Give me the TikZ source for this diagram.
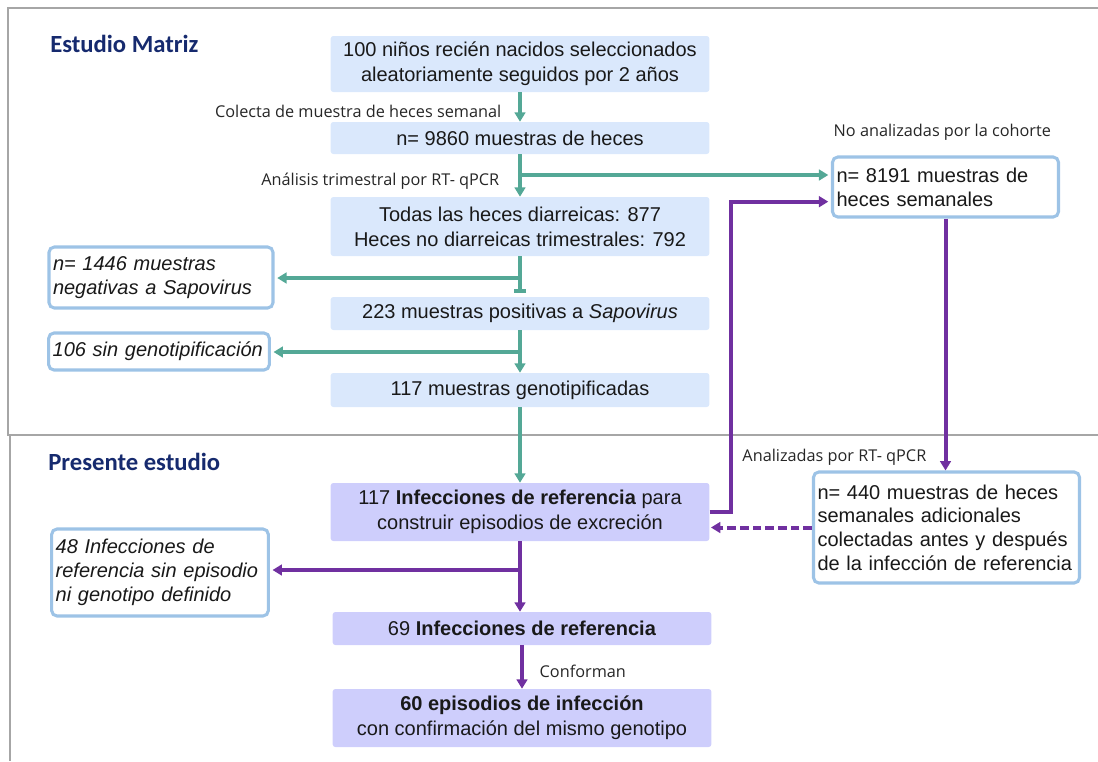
\documentclass[tikz,border=0pt]{standalone}
\usepackage{fontspec}
\setmainfont{Liberation Sans}
\newfontfamily\notefont{Open Sans}
\newfontfamily\headfont{Carlito}
\usetikzlibrary{arrows.meta, calc}
\definecolor{paleBlue}{RGB}{218, 232, 252}
\definecolor{paleLilac}{RGB}{206, 206, 252}
\definecolor{edgeBlue}{RGB}{157, 195, 230}
\definecolor{stemTeal}{RGB}{84, 168, 150}
\definecolor{stemPurple}{RGB}{112, 48, 160}
\definecolor{titleNavy}{RGB}{22, 42, 110}
\definecolor{frameGray}{RGB}{166, 166, 166}

\begin{document}
\begin{tikzpicture}[
    x=0.75pt, y=-0.75pt,
    flowstep/.style={
      rectangle, fill=paleBlue, rounded corners=2pt,
      minimum width=284pt, inner sep=2pt, text=black!90,
      font=\fontsize{15}{18.75}\selectfont, align=center
    },
    refstep/.style={flowstep, fill=paleLilac},
    sidenote/.style={
      rectangle, draw=edgeBlue, fill=white, line width=2.3pt,
      rounded corners=4pt, inner xsep=3pt, text=black!90,
      font=\fontsize{15}{17.8}\selectfont, align=left
    },
    tealarrow/.style={-{Triangle[length=7pt, width=8pt]}, stemTeal, line width=2.5pt},
    purplearrow/.style={-{Triangle[length=7pt, width=8pt]}, stemPurple, line width=3pt},
    steplabel/.style={font=\notefont\fontsize{12.2}{14}\selectfont, text=black!85},
    sectiontitle/.style={font=\headfont\bfseries\fontsize{18.5}{21}\selectfont, text=titleNavy, inner sep=0pt},
    frameline/.style={frameGray, line width=1.5pt},
  ]
    \useasboundingbox (0,0) rectangle (1098,761);

    % Sections
    \draw[frameline] (1098,8) -- (8,8) -- (8,435) -- (1098,435);
    \draw[frameline] (10,435) -- (10,761);
    \node[sectiontitle, anchor=base west] (tmatriz) at (50,52) {Estudio Matriz};
    \node[sectiontitle, anchor=base west] (tpresente) at (48,470) {Presente estudio};

    % Main column
    \node[flowstep, minimum height=42pt] (s1) at (520,64)
      {100 niños recién nacidos seleccionados\\aleatoriamente seguidos por 2 años};
    \node[flowstep, minimum height=24pt] (s2) at (520,138) {n= 9860 muestras de heces};
    \node[flowstep, minimum height=44.25pt] (s3) at (520,226.5)
      {Todas las heces diarreicas: 877\\Heces no diarreicas trimestrales: 792};
    \node[flowstep, minimum height=24.75pt] (s4) at (520,313.5)
      {223 muestras positivas a \textit{Sapovirus}};
    \node[flowstep, minimum height=25.5pt] (s5) at (520,390) {117 muestras genotipificadas};
    \node[refstep, minimum height=43.5pt] (s6) at (520,512)
      {117 \textbf{Infecciones de referencia} para\\construir episodios de excreción};
    \node[refstep, minimum height=24.75pt] (s7) at (522,628.5)
      {69 \textbf{Infecciones de referencia}};
    \node[refstep, minimum height=43.5pt] (s8) at (522,718)
      {\textbf{60 episodios de infección}\\con confirmación del mismo genotipo};

    % Side boxes
    \node[sidenote, text width=162pt, minimum height=45.75pt] (neg) at (161,277.5)
      {\textit{n= 1446 muestras}\\\textit{negativas a Sapovirus}};
    \node[sidenote, text width=159.5pt, minimum height=27.75pt] (singeno) at (159,351.5)
      {\textit{106 sin genotipificación}};
    \node[sidenote, text width=156.5pt, minimum height=65.25pt] (sinepi) at (160,572.5)
      {\textit{48 Infecciones de}\\\textit{referencia sin episodio}\\\textit{ni genotipo definido}};
    \node[sidenote, text width=163.5pt, minimum height=45pt] (noanal) at (945.5,187)
      {n= 8191 muestras de\\heces semanales};
    \node[sidenote, text width=193.5pt, minimum height=83.25pt] (adic) at (946.5,527.5)
      {n= 440 muestras de heces\\semanales adicionales\\colectadas antes y después\\de la infección de referencia};

    % Teal flow
    \foreach \i/\j in {s1/s2, s2/s3, s4/s5, s5/s6} {
      \draw[tealarrow] (\i) -- (\j);
    }
    \draw[stemTeal, line width=2.5pt, -{Bar[width=9pt]}, shorten >=3pt] (s3) -- (s4);
    \coordinate (tap1) at (s2.south |- 0,175);
    \coordinate (tap2) at (s3.south |- 0,278);
    \coordinate (tap3) at (s4.south |- 0,352);
    \draw[tealarrow, shorten >=2pt] (tap1) -- (tap1 -| noanal.west);
    \draw[tealarrow, shorten >=2pt] (tap2) -- (tap2 -| neg.east);
    \draw[tealarrow, shorten >=2pt] (tap3) -- (tap3 -| singeno.east);

    % Purple flow
    \foreach \i/\j in {s6/s7, s7/s8} {
      \draw[purplearrow] (\i.south) -- (\i.south |- \j.north);
    }
    \coordinate (tap4) at (s6.south |- 0,570);
    \draw[purplearrow, shorten >=2pt] (tap4) -- (tap4 -| sinepi.east);
    \draw[purplearrow, shorten >=2pt] (s6.east) -- ++(21,0) |- ([yshift=-11pt]noanal.west);
    \draw[purplearrow] (noanal.south) -- (noanal.south |- adic.north);
    \draw[purplearrow, dash pattern=on 6.5pt off 3pt, shorten >=1pt]
      (adic.west) -- (adic.west -| s6.east);

    % Annotations
    \node[steplabel, anchor=east] (lcolecta) at (506,111) {Colecta de muestra de heces semanal};
    \node[steplabel, anchor=east] (lanalisis) at (504,181) {Análisis trimestral por RT- qPCR};
    \node[steplabel, anchor=west] (lnoanal) at (829,132) {No analizadas por la cohorte};
    \node[steplabel, anchor=east] (lanaliz) at (931,457) {Analizadas por RT- qPCR};
    \node[steplabel, anchor=west] (lconforman) at (535,671) {Conforman};
  \end{tikzpicture}
\end{document}
